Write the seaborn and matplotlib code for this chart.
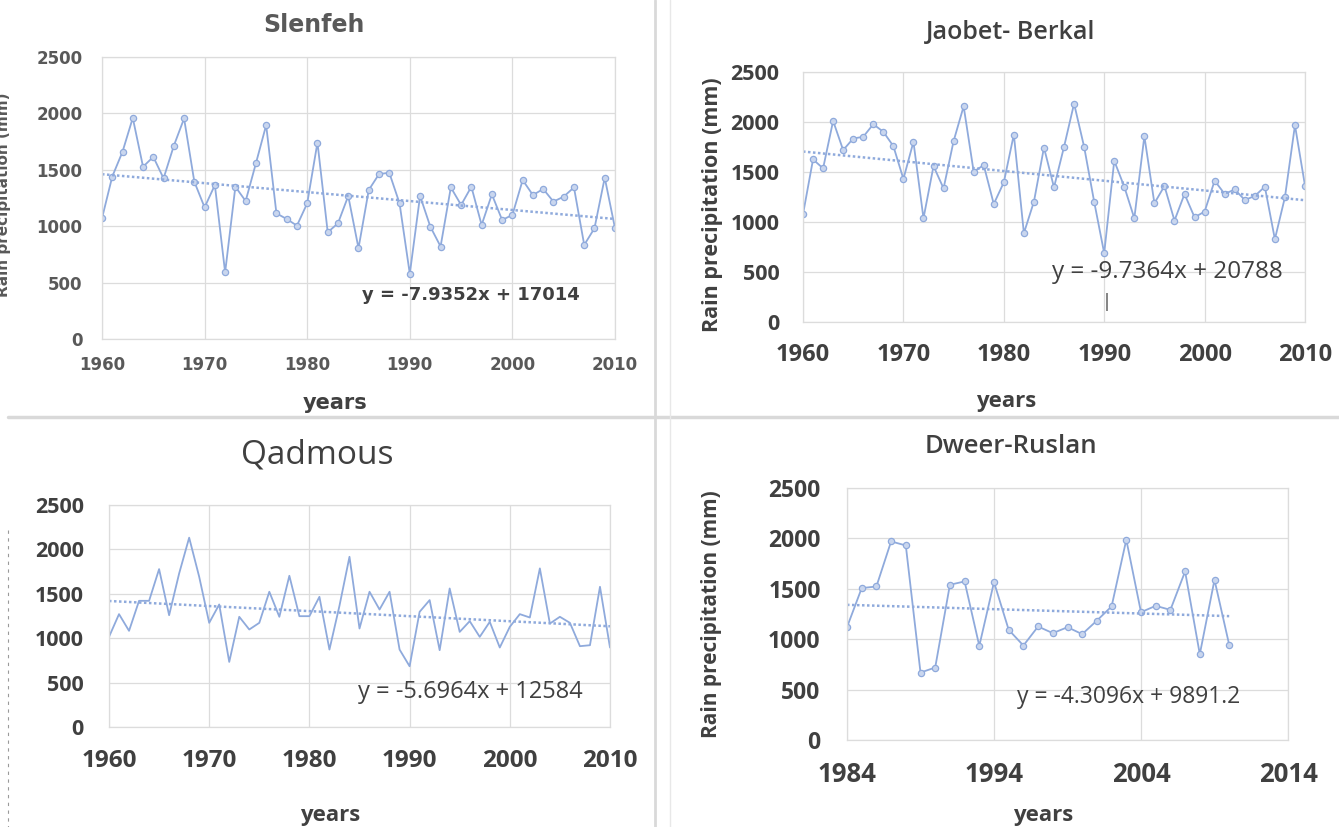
import numpy as np
import pandas as pd
import seaborn as sns
import matplotlib.pyplot as plt
from matplotlib.lines import Line2D

# ---- data ----
slenfeh_years = list(range(1960, 2011))
slenfeh_rain = [1070, 1440, 1660, 1960, 1527, 1615, 1424, 1713, 1955, 1394,
                1167, 1365, 590, 1350, 1223, 1557, 1896, 1114, 1064, 1005,
                1203, 1742, 946, 1026, 1268, 805, 1321, 1462, 1474, 1203,
                578, 1268, 996, 820, 1344, 1188, 1350, 1011, 1282, 1055,
                1100, 1409, 1276, 1330, 1218, 1262, 1344, 834, 982, 1430, 982]
slenfeh_trend = (-7.9352, 17014)

jaobet_years = list(range(1960, 2011))
jaobet_rain = [1077, 1626, 1536, 2011, 1719, 1835, 1852, 1978, 1902, 1759,
               1430, 1802, 1037, 1559, 1336, 1809, 2157, 1503, 1569, 1180,
               1396, 1875, 888, 1203, 1745, 1346, 1752, 2184, 1752, 1203,
               688, 1612, 1353, 1037, 1858, 1187, 1360, 1014, 1280, 1047,
               1104, 1413, 1280, 1326, 1220, 1260, 1353, 828, 1247, 1968, 1363]
jaobet_trend = (-9.7364, 20788)

qadmous_years = list(range(1960, 2011))
qadmous_rain = [1015, 1271, 1083, 1421, 1421, 1778, 1259, 1729, 2132, 1692,
                1173, 1380, 733, 1241, 1098, 1173, 1523, 1241, 1703, 1248,
                1248, 1466, 872, 1365, 1917, 1109, 1523, 1323, 1523, 872,
                684, 1297, 1429, 865, 1560, 1071, 1192, 1015, 1184, 895,
                1128, 1271, 1233, 1786, 1165, 1241, 1173, 910, 921, 1579, 895]
qadmous_trend = (-5.6964, 12584)

dweer_years = list(range(1984, 2011))
dweer_rain = [1119, 1507, 1523, 1970, 1930, 669, 719, 1540, 1573, 934,
              1566, 1093, 937, 1126, 1060, 1119, 1050, 1185, 1325, 1987,
              1268, 1331, 1291, 1672, 851, 1589, 944]
dweer_trend = (-4.3096, 9891.2)

titles = ["Slenfeh", "Jaobet- Berkal", "Qadmous", "Dweer-Ruslan"]
equations = ["y = -7.9352x + 17014", "y = -9.7364x + 20788",
             "y = -5.6964x + 12584", "y = -4.3096x + 9891.2"]
y_ticks = [0, 500, 1000, 1500, 2000, 2500]
x_ticks_main = [1960, 1970, 1980, 1990, 2000, 2010]
x_ticks_dweer = [1984, 1994, 2004, 2014]

LINE = "#8FAADC"
FILL = "#C9D6EE"
GRID = "#DCDCDC"
DARK = "#404040"
MID = "#595959"

W, H = 1339, 827
sns.set_style("white")
fig = plt.figure(figsize=(W / 100, H / 100), dpi=100)


def fx(px):
    return px / W


def fy(py):
    return 1 - py / H


def add_ax(x0, x1, ytop, ybot):
    return fig.add_axes([fx(x0), fy(ybot), (x1 - x0) / W, (ybot - ytop) / H])


def draw(ax, years, rain, trend, markers):
    kw = dict(marker="o", markersize=4.5, markerfacecolor=FILL,
              markeredgecolor=LINE, markeredgewidth=0.9) if markers else {}
    sns.lineplot(x=years, y=rain, ax=ax, color=LINE, linewidth=1.3, **kw)
    tx = [years[0], years[-1]]
    ty = [trend[0] * v + trend[1] for v in tx]
    sns.lineplot(x=tx, y=ty, ax=ax, color=LINE, linewidth=1.8,
                 linestyle=(0, (1, 1)))


def style(ax, xlim, xticks, font, xsize, ysize, weight, color, xpad, ypad):
    ax.set_xlim(xlim)
    ax.set_ylim(0, 2500)
    ax.set_xticks(xticks, labels=[str(v) for v in xticks], fontsize=xsize,
                  fontfamily=font, fontweight=weight, color=color)
    ax.set_yticks(y_ticks, labels=[str(v) for v in y_ticks], fontsize=ysize,
                  fontfamily=font, fontweight=weight, color=color)
    ax.tick_params(axis="both", length=0)
    ax.tick_params(axis="x", pad=xpad)
    ax.tick_params(axis="y", pad=ypad)
    ax.grid(True, color=GRID, linewidth=0.9)
    ax.set_axisbelow(True)
    for s in ax.spines.values():
        s.set_color(GRID)
        s.set_linewidth(0.9)
    ax.set_xlabel("")
    ax.set_ylabel("")


# ---- Slenfeh ----
ax1 = add_ax(102, 615, 57, 339)
draw(ax1, slenfeh_years, slenfeh_rain, slenfeh_trend, True)
style(ax1, (1960, 2010), x_ticks_main, "DejaVu Sans", 12, 12, "bold", MID, 12, 14)
fig.text(fx(314), fy(25), titles[0], fontsize=17, fontweight="bold",
         family="DejaVu Sans", color=MID, ha="center", va="center")
fig.text(fx(335), fy(403), "years", fontsize=15, fontweight="bold",
         family="DejaVu Sans", color=DARK, ha="center", va="center")
fig.text(fx(362), fy(295), equations[0], fontsize=13, fontweight="bold",
         family="DejaVu Sans", color=DARK, ha="left", va="center")
# y label of this panel is cut by the left edge in the source picture
fig.text(fx(4), fy(195), "Rain precipitation (mm)", fontsize=11,
         fontweight="bold", family="DejaVu Sans", color=MID, rotation=90,
         ha="center", va="center")

# ---- Jaobet- Berkal ----
ax2 = add_ax(803, 1305, 72, 322)
draw(ax2, jaobet_years, jaobet_rain, jaobet_trend, True)
style(ax2, (1960, 2010), x_ticks_main, "Open Sans", 17, 15.5, "bold", DARK, 15, 17)
fig.text(fx(1011), fy(33), titles[1], fontsize=18, fontweight="semibold",
         family="Open Sans", color=DARK, ha="center", va="center")
fig.text(fx(1006), fy(402), "years", fontsize=16, fontweight="bold",
         family="Open Sans", color=DARK, ha="center", va="center")
fig.text(fx(1052), fy(272), equations[1], fontsize=17.5,
         family="Open Sans", color=DARK, ha="left", va="center")
fig.text(fx(1107), fy(302), "|", fontsize=13, family="Open Sans",
         color=DARK, ha="center", va="center")
fig.text(fx(713), fy(205), "Rain precipitation (mm)", fontsize=15.5,
         fontweight="bold", family="Open Sans", color=DARK, rotation=90,
         ha="center", va="center")

# ---- Qadmous ----
ax3 = add_ax(109, 610, 505, 727)
draw(ax3, qadmous_years, qadmous_rain, qadmous_trend, False)
style(ax3, (1960, 2010), x_ticks_main, "Open Sans", 17.5, 15.5, "bold", DARK, 16, 18)
fig.text(fx(317), fy(455), titles[2], fontsize=24,
         family="Open Sans", color=DARK, ha="center", va="center")
fig.text(fx(330), fy(815), "years", fontsize=16, fontweight="bold",
         family="Open Sans", color=DARK, ha="center", va="center")
fig.text(fx(358), fy(692), equations[2], fontsize=17,
         family="Open Sans", color=DARK, ha="left", va="center")

# ---- Dweer-Ruslan ----
ax4 = add_ax(847, 1288, 488, 740)
draw(ax4, dweer_years, dweer_rain, dweer_trend, True)
style(ax4, (1984, 2014), x_ticks_dweer, "Open Sans", 18.5, 16.5, "bold", DARK, 15, 19)
fig.text(fx(1011), fy(447), titles[3], fontsize=18.5, fontweight="semibold",
         family="Open Sans", color=DARK, ha="center", va="center")
fig.text(fx(1043), fy(815), "years", fontsize=16, fontweight="bold",
         family="Open Sans", color=DARK, ha="center", va="center")
fig.text(fx(1017), fy(697), equations[3], fontsize=16.5,
         family="Open Sans", color=DARK, ha="left", va="center")
fig.text(fx(711), fy(614), "Rain precipitation (mm)", fontsize=15,
         fontweight="bold", family="Open Sans", color=DARK, rotation=90,
         ha="center", va="center")

# ---- panel separators and edge remnants ----
fig.add_artist(Line2D([fx(8), fx(W)], [fy(417), fy(417)], color="#D9D9D9", lw=2.5))
fig.add_artist(Line2D([fx(655), fx(655)], [fy(0), fy(H)], color="#D9D9D9", lw=2))
fig.add_artist(Line2D([fx(670), fx(670)], [fy(0), fy(H)], color="#E8E8E8", lw=1))
fig.add_artist(Line2D([fx(8), fx(8)], [fy(530), fy(H)], color="#9A9A9A",
                      lw=0.8, linestyle=(0, (3, 4))))

fig.savefig("out.png", dpi=100)
